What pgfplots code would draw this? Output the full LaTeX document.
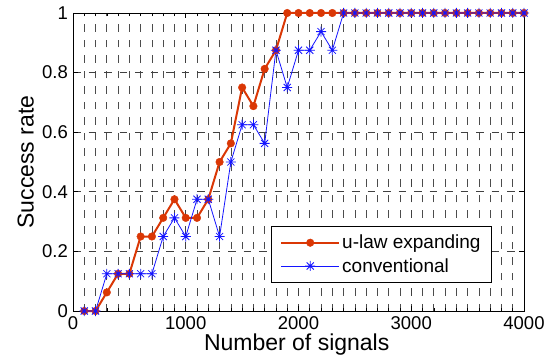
\documentclass[border=0pt]{standalone}
\usepackage{fontspec}
\setmainfont{Liberation Sans}
\usepackage{pgfplots}
\pgfplotsset{compat=1.18}
\definecolor{ured}{RGB}{218,55,5}
\definecolor{ublue}{RGB}{20,20,255}
\pgfdeclareplotmark{mstar}{%
  \pgfpathmoveto{\pgfqpoint{-\pgfplotmarksize}{0pt}}\pgfpathlineto{\pgfqpoint{\pgfplotmarksize}{0pt}}%
  \pgfpathmoveto{\pgfqpoint{0pt}{-\pgfplotmarksize}}\pgfpathlineto{\pgfqpoint{0pt}{\pgfplotmarksize}}%
  \pgfpathmoveto{\pgfqpoint{-0.707\pgfplotmarksize}{-0.707\pgfplotmarksize}}\pgfpathlineto{\pgfqpoint{0.707\pgfplotmarksize}{0.707\pgfplotmarksize}}%
  \pgfpathmoveto{\pgfqpoint{-0.707\pgfplotmarksize}{0.707\pgfplotmarksize}}\pgfpathlineto{\pgfqpoint{0.707\pgfplotmarksize}{-0.707\pgfplotmarksize}}%
  \pgfusepathqstroke}
\pgfplotstableread{
x ulaw conv
100 0 0
200 0 0
300 0.0625 0.125
400 0.125 0.125
500 0.125 0.125
600 0.25 0.125
700 0.25 0.125
800 0.3125 0.25
900 0.375 0.3125
1000 0.3125 0.25
1100 0.3125 0.375
1200 0.375 0.375
1300 0.5 0.25
1400 0.5625 0.5
1500 0.75 0.625
1600 0.6875 0.625
1700 0.8125 0.5625
1800 0.875 0.875
1900 1 0.75
2000 1 0.875
2100 1 0.875
2200 1 0.9375
2300 1 0.875
2400 1 1
2500 1 1
2600 1 1
2700 1 1
2800 1 1
2900 1 1
3000 1 1
3100 1 1
3200 1 1
3300 1 1
3400 1 1
3500 1 1
3600 1 1
3700 1 1
3800 1 1
3900 1 1
4000 1 1
}\datatable
\begin{document}
\begin{tikzpicture}
\path (-73bp,-49bp) rectangle (475bp,311bp);
\begin{axis}[
  at={(0,0)}, anchor=south west,
  scale only axis, width=451bp, height=298bp,
  xmin=0, xmax=4000, ymin=0, ymax=1,
  xtick={0,1000,2000,3000,4000},
  minor x tick num=9,
  ytick={0,0.2,0.4,0.6,0.8,1},
  yticklabels={0,0.2,0.4,0.6,0.8,1},
  scaled x ticks=false,
  /pgf/number format/1000 sep={},
  /pgf/number format/assume math mode=true,
  tick label style={font=\fontsize{18.5bp}{20bp}\selectfont, black},
  xticklabel style={inner sep=2bp, yshift=-3bp},
  yticklabel style={inner sep=2bp, xshift=-3bp},
  grid=both,
  major grid style={black!75, line width=0.7bp, dash pattern=on 7.5bp off 8bp},
  minor grid style={black!70, line width=0.7bp, dash pattern=on 7.5bp off 8bp},
  tick align=inside,
  major tick length=5bp, minor tick length=3bp,
  tick style={black, line width=0.6bp},
  axis line style={black, line width=0.8bp},
  clip=false,
  legend style={at={(rel axis cs:0.929,0.094)}, anchor=south east,
    font=\fontsize{19bp}{21bp}\selectfont, draw=black, line width=0.8bp,
    inner xsep=9bp, inner ysep=7bp, row sep=4bp,
    fill=white},
  legend cell align=left,
  legend image code/.code={\draw[mark repeat=2,mark phase=2,#1] plot coordinates {(0bp,0bp) (29bp,0bp) (58bp,0bp)};},
]
\addplot[color=ured, line width=2bp, mark=*, mark size=3.8bp, mark options={solid, fill=ured, line width=0.4bp}]
  table[x=x, y=ulaw] {\datatable};
\addlegendentry{u-law expanding}
\addplot[color=ublue, line width=0.8bp, mark=mstar, mark size=5bp, mark options={solid, line width=0.8bp}]
  table[x=x, y=conv] {\datatable};
\addlegendentry{conventional}
\end{axis}
\node[anchor=base, font=\fontsize{23bp}{25bp}\selectfont, inner sep=0pt] at (223.7bp,-39bp) {Number of signals};
\node[rotate=90, anchor=base, font=\fontsize{23bp}{25bp}\selectfont, inner sep=0pt] at (-39.5bp,149bp) {Success rate};
\end{tikzpicture}
\end{document}
